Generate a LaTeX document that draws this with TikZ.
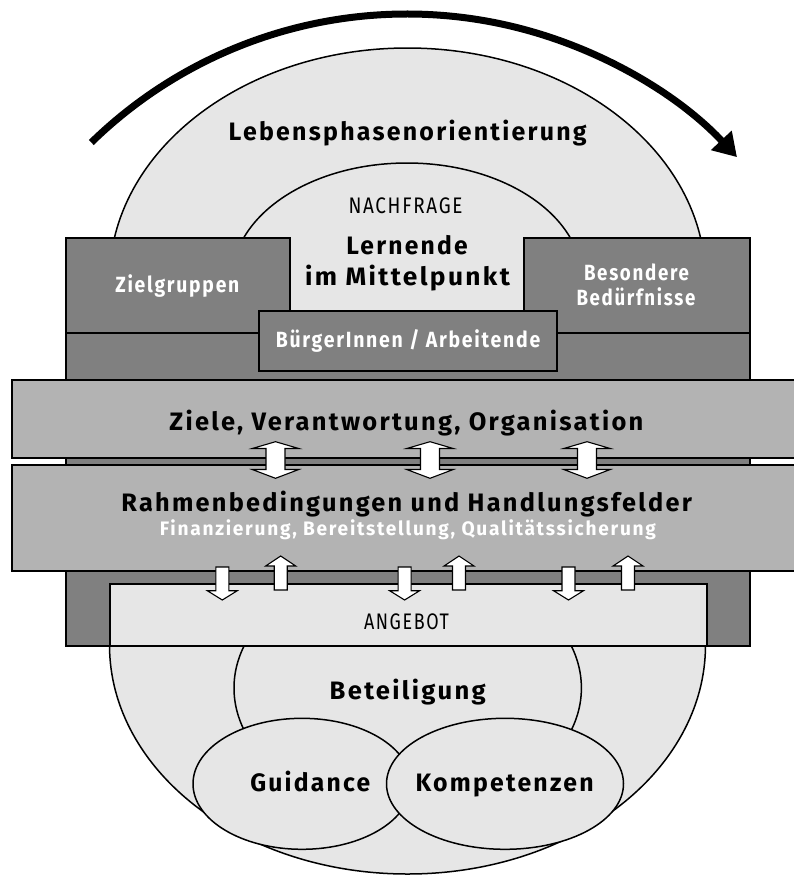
\documentclass[tikz,border=0pt]{standalone}
\usepackage{fontspec}
\setmainfont{Fira Sans}[LetterSpace=9]
\usetikzlibrary{arrows.meta,shapes.geometric}
\definecolor{lightg}{HTML}{E6E6E6}
\definecolor{darkg}{HTML}{808080}
\definecolor{midg}{HTML}{B3B3B3}
\newcommand\fitw[2]{\resizebox{#1pt}{\height}{#2}}
\begin{document}
\begin{tikzpicture}[x=1pt,y=-1pt,line join=miter,
  box/.style={draw,line width=2pt,rectangle,inner sep=0pt,anchor=north west},
  oval/.style={draw,line width=1.5pt,ellipse,fill=lightg,inner sep=0pt},
  dblarrow/.style={draw,fill=white,line width=1.1pt},
  sglarrow/.style={draw,fill=white,line width=1.1pt},
  big/.style={inner sep=0pt,anchor=base,font=\bfseries\fontsize{25.2}{30}\selectfont},
  mid/.style={inner sep=0pt,anchor=base,font=\bfseries\fontsize{22}{26}\selectfont},
  reg/.style={inner sep=0pt,anchor=base,font=\fontsize{22.5}{26}\selectfont},
  small/.style={inner sep=0pt,anchor=base,font=\bfseries\fontsize{19.5}{23}\selectfont}]
\useasboundingbox (0,0) rectangle (793,876);

% outer shape
\draw[fill=lightg,line width=1.5pt] (109.5,280)
  arc[start angle=180,end angle=360,x radius=298,y radius=232]
  -- (705.5,645)
  arc[start angle=0,end angle=180,x radius=298,y radius=229] -- cycle;

% inner arc (Nachfrage)
\begin{scope}
  \clip (0,0) rectangle (793,237);
  \draw[line width=1.5pt] (407,280) ellipse[x radius=175,y radius=117];
\end{scope}

% lower ellipses
\node[oval,minimum width=347.4pt,minimum height=250pt] (betel) at (407.7,688) {};
\node[oval,minimum width=218pt,minimum height=131pt] (guidel) at (302,783.8) {};
\node[oval,minimum width=237pt,minimum height=131pt] (kompel) at (505,783.8) {};

% dark frame
\node[box,fill=darkg,minimum width=684pt,minimum height=313pt] (dark) at (65,332) {};
\node[box,fill=darkg,minimum width=224pt,minimum height=95pt] (ziel) at (65,237) {};
\node[box,fill=darkg,minimum width=226pt,minimum height=95pt] (bes) at (523,237) {};
\node[box,fill=darkg,minimum width=298pt,minimum height=60pt] (buerg) at (258,310) {};

% bars
\node[box,fill=midg,minimum width=800pt,minimum height=78pt] (zielebar) at (11,379) {};
\node[box,fill=midg,minimum width=800pt,minimum height=106.5pt] (rahmenbar) at (11,463.5) {};
\node[box,fill=lightg,minimum width=597pt,minimum height=62pt] (angebot) at (109,583) {};

% double arrows
\foreach \cx in {275.5,430,587}{
  \draw[dblarrow,shift={(\cx,460)}] (0,-18.3) -- (23.3,-11.5) -- (9.5,-11.5) -- (9.5,9.5)
    -- (23.3,9.5) -- (0,18.3) -- (-23.3,9.5) -- (-9.5,9.5) -- (-9.5,-11.5) -- (-23.3,-11.5) -- cycle;
}
% down arrows
\foreach \cx in {222.3,404.6,568.5}{
  \draw[sglarrow,shift={(\cx,0)}] (-6.5,567) -- (6.5,567) -- (6.5,590.7) -- (15,590.7)
    -- (0,600) -- (-15,590.7) -- (-6.5,590.7) -- cycle;
}
% up arrows
\foreach \cx in {280.7,459,628}{
  \draw[sglarrow,shift={(\cx,0)}] (0,556) -- (15,566) -- (6.5,566) -- (6.5,590)
    -- (-6.5,590) -- (-6.5,566) -- (-15,566) -- cycle;
}

% texts
\node[big] (leb) at (407.7,140) {\fitw{358}{Lebensphasenorientierung}};
\node[reg] (nach) at (405.5,213.3) {\fitw{114}{NACHFRAGE}};
\node[big] (lern1) at (407,254.5) {\fitw{121.5}{Lernende}};
\node[big] (lern2) at (407.5,285) {\fitw{205}{im Mittelpunkt}};
\node[mid,text=white] (zielt) at (177.3,292) {\fitw{124}{Zielgruppen}};
\node[mid,text=white] (best1) at (636.5,280) {\fitw{105}{Besondere}};
\node[mid,text=white] (best2) at (636,305) {\fitw{119}{Bedürfnisse}};
\node[mid,text=white] (buergt) at (408,347) {\fitw{264.5}{BürgerInnen / Arbeitende}};
\node[big] (zielet) at (406.4,430) {\fitw{474}{Ziele, Verantwortung, Organisation}};
\node[big] (rahment) at (406.7,511.7) {\fitw{570.6}{Rahmenbedingungen und Handlungsfelder}};
\node[small,text=white] (fint) at (408,535) {\fitw{496}{Finanzierung, Bereitstellung, Qualitätssicherung}};
\node[reg] (angt) at (406.5,629.3) {\fitw{85}{ANGEBOT}};
\node[big] (bett) at (407.7,699.3) {\fitw{156}{Beteiligung}};
\node[big] (guidt) at (310.3,791.7) {\fitw{120}{Guidance}};
\node[big] (kompt) at (504.7,791.7) {\fitw{178}{Kompetenzen}};

% top arrow
\draw[line width=7pt,-{Triangle[length=23pt,width=27pt]}] (91.3,142.5)
  arc[start angle=-134.3,end angle=-43.1,radius=452];
\end{tikzpicture}
\end{document}
